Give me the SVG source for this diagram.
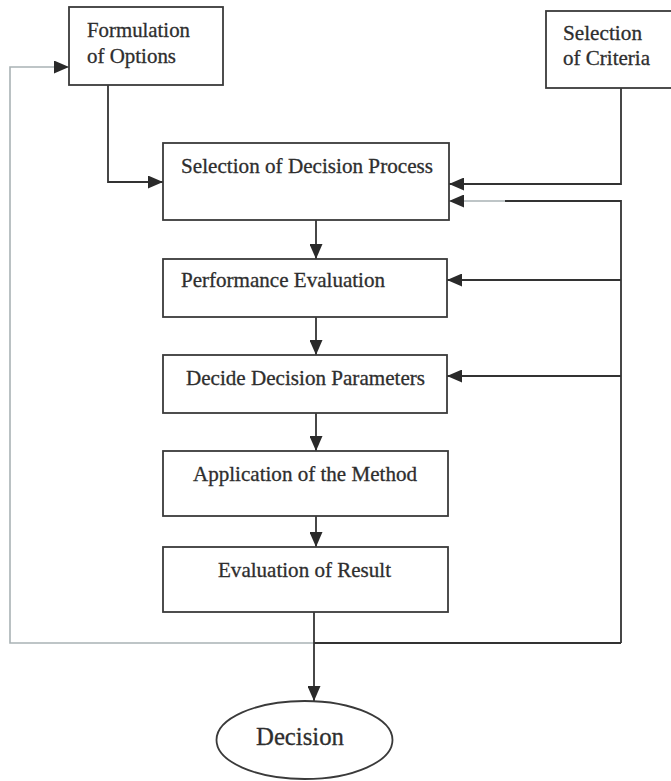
<svg xmlns="http://www.w3.org/2000/svg" width="671" height="781" viewBox="0 0 671 781">
<style>
.box{fill:#fff;stroke:#3a3a3a;stroke-width:1.8}
.t{font-family:"Liberation Serif","Times New Roman",serif;font-size:21px;fill:#2e2e2e;stroke:#2e2e2e;stroke-width:0.3}
.ln{fill:none;stroke:#333;stroke-width:1.8}
.lg{fill:none;stroke:#a9b2b5;stroke-width:1.6}
</style>
<defs>
<marker id="ah" markerWidth="15" markerHeight="13" refX="15" refY="6.5" orient="auto" markerUnits="userSpaceOnUse">
<path d="M0,0 L15,6.5 L0,13 Z" fill="#2a2a2a"/>
</marker>
</defs>
<rect width="671" height="781" fill="#fff"/>
<g id="connectors">
<path class="ln" d="M108,85 V182 H163" marker-end="url(#ah)"/>
<path class="ln" d="M621,88 V184 H449" marker-end="url(#ah)"/>
<path class="ln" d="M621,643 V201 H505"/>
<path class="lg" d="M505,201 H449" marker-end="url(#ah)"/>
<path class="ln" d="M621,280 H447" marker-end="url(#ah)"/>
<path class="ln" d="M621,376 H447" marker-end="url(#ah)"/>
<path class="ln" d="M621,643 H314"/>
<path class="lg" d="M314,643 H10 V67 H69" marker-end="url(#ah)"/>
<path class="ln" d="M316,220 V259" marker-end="url(#ah)"/>
<path class="ln" d="M316,317 V355" marker-end="url(#ah)"/>
<path class="ln" d="M316,413 V451" marker-end="url(#ah)"/>
<path class="ln" d="M316,516 V547" marker-end="url(#ah)"/>
<path class="ln" d="M314,612 V701" marker-end="url(#ah)"/>
</g>
<g id="formulation">
<rect class="box" x="69" y="7" width="154" height="78"/>
<text class="t" x="87" y="37" textLength="103" lengthAdjust="spacingAndGlyphs">Formulation</text>
<text class="t" x="87" y="63" textLength="89" lengthAdjust="spacingAndGlyphs">of Options</text>
</g>
<g id="criteria">
<rect class="box" x="546" y="11" width="140" height="77"/>
<text class="t" x="563" y="40" textLength="79" lengthAdjust="spacingAndGlyphs">Selection</text>
<text class="t" x="563" y="65" textLength="87" lengthAdjust="spacingAndGlyphs">of Criteria</text>
</g>
<g id="selection">
<rect class="box" x="163" y="143" width="286" height="77"/>
<text class="t" x="181" y="173" textLength="252" lengthAdjust="spacingAndGlyphs">Selection of Decision Process</text>
</g>
<g id="performance">
<rect class="box" x="163" y="259" width="284" height="58"/>
<text class="t" x="181" y="287" textLength="204" lengthAdjust="spacingAndGlyphs">Performance Evaluation</text>
</g>
<g id="parameters">
<rect class="box" x="163" y="355" width="284" height="58"/>
<text class="t" x="186" y="385" textLength="239" lengthAdjust="spacingAndGlyphs">Decide Decision Parameters</text>
</g>
<g id="application">
<rect class="box" x="163" y="451" width="285" height="65"/>
<text class="t" x="193" y="481" textLength="224" lengthAdjust="spacingAndGlyphs">Application of the Method</text>
</g>
<g id="evaluation">
<rect class="box" x="163" y="547" width="285" height="65"/>
<text class="t" x="218" y="577" textLength="173" lengthAdjust="spacingAndGlyphs">Evaluation of Result</text>
</g>
<g id="decision">
<ellipse class="box" cx="304.5" cy="740" rx="88" ry="39"/>
<text class="t" x="256" y="745" style="font-size:26px" textLength="88" lengthAdjust="spacingAndGlyphs">Decision</text>
</g>
</svg>
